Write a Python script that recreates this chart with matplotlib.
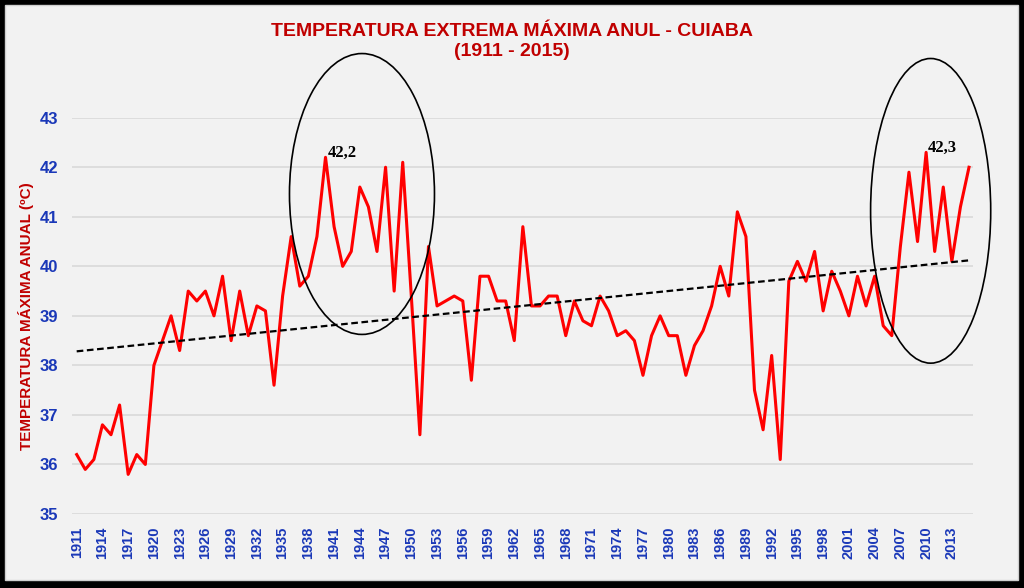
import numpy as np
import matplotlib
matplotlib.use("Agg")
import matplotlib.pyplot as plt
from matplotlib.patches import Ellipse, Rectangle

years = list(range(1911, 2016))
temps = [
    36.2, 35.9, 36.1, 36.8, 36.6, 37.2, 35.8, 36.2, 36.0, 38.0,   # 1911-1920
    38.5, 39.0, 38.3, 39.5, 39.3, 39.5, 39.0, 39.8, 38.5, 39.5,   # 1921-1930
    38.6, 39.2, 39.1, 37.6, 39.4, 40.6, 39.6, 39.8, 40.6, 42.2,   # 1931-1940
    40.8, 40.0, 40.3, 41.6, 41.2, 40.3, 42.0, 39.5, 42.1, 39.4,   # 1941-1950
    36.6, 40.4, 39.2, 39.3, 39.4, 39.3, 37.7, 39.8, 39.8, 39.3,   # 1951-1960
    39.3, 38.5, 40.8, 39.2, 39.2, 39.4, 39.4, 38.6, 39.3, 38.9,   # 1961-1970
    38.8, 39.4, 39.1, 38.6, 38.7, 38.5, 37.8, 38.6, 39.0, 38.6,   # 1971-1980
    38.6, 37.8, 38.4, 38.7, 39.2, 40.0, 39.4, 41.1, 40.6, 37.5,   # 1981-1990
    36.7, 38.2, 36.1, 39.7, 40.1, 39.7, 40.3, 39.1, 39.9, 39.5,   # 1991-2000
    39.0, 39.8, 39.2, 39.8, 38.8, 38.6, 40.4, 41.9, 40.5, 42.3,   # 2001-2010
    40.3, 41.6, 40.1, 41.2, 42.0,                                 # 2011-2015
]
tick_years = list(range(1911, 2016, 3))
yticks = [35, 36, 37, 38, 39, 40, 41, 42, 43]

title1 = "TEMPERATURA EXTREMA MÁXIMA ANUL - CUIABA"
title2 = "(1911 - 2015)"
ylabel = "TEMPERATURA MÁXIMA ANUAL (ºC)"

RED_T = "#c00000"
BLUE = "#1a38b8"
FONT = ["Liberation Sans", "DejaVu Sans"]

fig = plt.figure(figsize=(10.24, 5.88), dpi=100, facecolor="black")
W, H = 1024, 588
fig.patches.append(Rectangle((5 / W, 1 - 580 / H), (1018 - 5) / W, (580 - 5) / H,
                             transform=fig.transFigure, facecolor="#f2f2f2",
                             edgecolor="#d0d0d0", linewidth=1, zorder=-10))

AX_L, AX_R, AX_T, AX_B = 72.4, 973.3, 117.7, 514
ax = fig.add_axes([AX_L / W, 1 - AX_B / H, (AX_R - AX_L) / W, (AX_B - AX_T) / H])
ax.set_zorder(1)
ax.set_facecolor("none")
for s in ax.spines.values():
    s.set_visible(False)

ax.set_xlim(1910.5, 2015.5)
ax.set_ylim(35, 43)
ax.set_yticks(yticks)
ax.set_xticks(tick_years)
ax.set_xticklabels([str(y) for y in tick_years], rotation=90, fontsize=10.5,
                   fontweight="bold", color=BLUE, family=FONT)
ax.set_yticklabels([str(v) for v in yticks], fontsize=12, fontweight="bold",
                   color=BLUE, family=FONT)
ax.tick_params(axis="x", length=0, pad=9)
ax.tick_params(axis="y", length=0, pad=10)
ax.grid(axis="y", color="#d9d9d9", linewidth=1.2)
ax.set_axisbelow(True)

ax.plot(years, temps, color="#ff0000", linewidth=2.2, zorder=3)

coef = np.polyfit(years, temps, 1)
tx = np.array([years[0], years[-1]])
ax.plot(tx, np.polyval(coef, tx), color="black", linestyle=(0, (3, 1.6)),
        linewidth=1.6, zorder=4)

ax.add_patch(Ellipse((1944.25, 41.46), 16.9, 5.67, fill=False, edgecolor="black",
                     linewidth=1.2, clip_on=False, zorder=5))
ax.add_patch(Ellipse((2010.53, 41.12), 14.0, 6.15, fill=False, edgecolor="black",
                     linewidth=1.2, clip_on=False, zorder=5))

imax1 = temps.index(max(temps[:50]))
imax2 = temps.index(max(temps))
ax.annotate("42,2", (years[imax1], temps[imax1]), xytext=(1.5, 3),
            textcoords="offset points", ha="left", va="center", fontsize=12,
            fontweight="bold", family=["Liberation Serif", "DejaVu Serif"])
ax.annotate("42,3", (years[imax2], temps[imax2]), xytext=(1.5, 3.4),
            textcoords="offset points", ha="left", va="center", fontsize=12,
            fontweight="bold", family=["Liberation Serif", "DejaVu Serif"])

ax.set_ylabel(ylabel, fontsize=11, fontweight="bold", color=RED_T, family=FONT)
ax.yaxis.set_label_coords(-(AX_L - 34) / (AX_R - AX_L), 0.5)

fig.text(0.5, 1 - 31 / H, title1, ha="center", va="center", fontsize=14,
         fontweight="bold", color=RED_T, family=FONT)
fig.text(0.5, 1 - 52 / H, title2, ha="center", va="center", fontsize=14,
         fontweight="bold", color=RED_T, family=FONT)

fig.savefig("out.png", dpi=100, facecolor="black")
